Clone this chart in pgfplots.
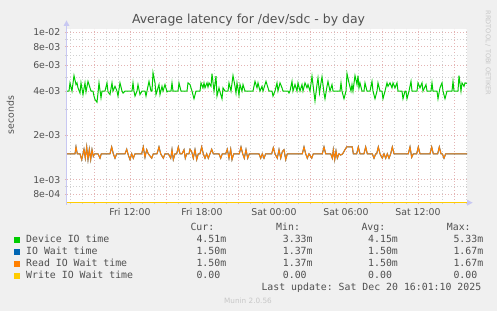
\documentclass[border=0pt]{standalone}
\usepackage{fontspec}
\setmainfont{DejaVu Sans}
\setmonofont{DejaVu Sans Mono}
\usepackage{pgfplots}
\usepackage{pgfplotstable}
\pgfplotsset{compat=1.18}
\definecolor{bg}{HTML}{F0F0F0}
\definecolor{dev}{HTML}{00CC00}
\definecolor{iow}{HTML}{0066B3}
\definecolor{rio}{HTML}{FF8000}
\definecolor{wio}{HTML}{FFCC00}
\definecolor{mgrid}{HTML}{E4B4B4}
\definecolor{mingrid}{HTML}{D0D0D0}
\definecolor{axisc}{HTML}{C8C8F2}
\definecolor{txt}{HTML}{505050}

% x = time in 5-minute steps (Fri 12:00 = 130, Sat 00:00 = 274)
\pgfplotstableread{
x y
67 4.0e-3
69 4.0e-3
70 4.55e-3
72 4.0e-3
74 5.10e-3
76 4.43e-3
77 4.55e-3
78 4.21e-3
80 3.88e-3
81 4.55e-3
83 3.79e-3
85 4.55e-3
86 3.95e-3
88 4.66e-3
89 4.43e-3
91 4.0e-3
93 4.0e-3
94 3.70e-3
95 3.51e-3
97 3.36e-3
98 3.88e-3
99 4.55e-3
101 3.60e-3
102 4.0e-3
105 4.0e-3
107 4.55e-3
108 3.95e-3
110 3.79e-3
112 4.55e-3
113 4.0e-3
115 4.31e-3
117 4.0e-3
118 3.70e-3
120 4.55e-3
122 4.0e-3
123 3.88e-3
125 4.0e-3
132 4.0e-3
133 4.55e-3
134 4.0e-3
135 3.70e-3
137 4.0e-3
138 4.43e-3
140 3.79e-3
142 4.0e-3
145 4.0e-3
146 3.70e-3
147 4.0e-3
149 4.66e-3
151 4.0e-3
152 4.0e-3
153 5.33e-3
155 4.55e-3
156 3.79e-3
157 4.0e-3
159 4.43e-3
160 3.79e-3
162 4.31e-3
163 4.0e-3
165 4.43e-3
167 3.95e-3
168 4.0e-3
171 4.0e-3
172 4.55e-3
173 4.0e-3
178 4.0e-3
179 4.55e-3
181 4.0e-3
187 4.0e-3
188 4.55e-3
190 4.43e-3
192 4.0e-3
194 3.55e-3
196 4.0e-3
200 4.0e-3
201 4.55e-3
203 4.21e-3
204 4.55e-3
205 4.21e-3
207 4.55e-3
208 4.26e-3
209 4.55e-3
211 4.31e-3
212 5.26e-3
214 4.0e-3
216 5.05e-3
217 3.70e-3
219 4.21e-3
220 3.95e-3
222 3.55e-3
223 4.21e-3
225 4.0e-3
228 4.0e-3
229 4.55e-3
231 4.0e-3
233 5.10e-3
235 4.31e-3
236 3.88e-3
237 4.55e-3
239 3.75e-3
240 4.43e-3
242 4.0e-3
243 4.43e-3
245 4.0e-3
253 4.0e-3
255 4.66e-3
257 4.21e-3
258 4.55e-3
260 4.0e-3
262 4.31e-3
263 4.0e-3
266 4.66e-3
268 4.21e-3
269 4.0e-3
272 4.0e-3
273 3.70e-3
275 4.0e-3
277 4.55e-3
278 4.0e-3
280 4.55e-3
282 4.21e-3
283 4.0e-3
288 4.0e-3
289 3.88e-3
290 4.0e-3
292 4.66e-3
293 4.0e-3
295 4.43e-3
297 4.0e-3
298 4.55e-3
300 4.0e-3
302 4.43e-3
303 4.0e-3
305 4.55e-3
307 4.21e-3
308 4.43e-3
310 4.0e-3
312 5.05e-3
314 3.88e-3
315 3.43e-3
317 4.43e-3
318 4.92e-3
319.5 3.88e-3
321 4.55e-3
322 5.0e-3
324 3.88e-3
325 3.55e-3
327 4.31e-3
328 4.66e-3
330 4.0e-3
332 4.43e-3
333 4.0e-3
340 4.0e-3
341 4.55e-3
342 4.0e-3
344 3.55e-3
346 4.0e-3
347 5.26e-3
349 4.55e-3
351 4.0e-3
352 4.43e-3
353 4.0e-3
355 5.10e-3
357 4.43e-3
358 5.10e-3
359 4.21e-3
360 4.55e-3
362 4.0e-3
364 4.0e-3
365 4.55e-3
367 4.0e-3
370 4.0e-3
372 4.66e-3
373 4.0e-3
375 3.55e-3
377 4.0e-3
378 4.55e-3
380 4.0e-3
382 4.0e-3
383 3.55e-3
385 4.0e-3
387 4.55e-3
388 4.31e-3
390 4.55e-3
392 4.21e-3
393 4.55e-3
395 4.21e-3
397 4.55e-3
398 4.0e-3
402 4.0e-3
403 3.55e-3
405 4.0e-3
406 4.0e-3
407 3.55e-3
409 4.0e-3
411 4.66e-3
412 4.0e-3
417 4.0e-3
418 4.55e-3
420 4.21e-3
422 4.55e-3
423 4.0e-3
426 4.43e-3
427 4.0e-3
431 4.0e-3
432 4.55e-3
433 4.0e-3
437 4.0e-3
438 3.55e-3
440 4.21e-3
442 4.55e-3
443 4.0e-3
445 3.55e-3
447 4.0e-3
452 4.0e-3
453 4.66e-3
454 4.0e-3
458 4.0e-3
459 5.10e-3
461 4.0e-3
462 4.55e-3
464 4.31e-3
465 4.55e-3
467 4.51e-3
}\devtable

\pgfplotstableread{
x y
67 1.5e-3
75 1.5e-3
76 1.67e-3
77.3 1.5e-3
80 1.5e-3
81.7 1.37e-3
84 1.61e-3
85.3 1.40e-3
86.7 1.67e-3
88 1.37e-3
89.3 1.61e-3
90.7 1.37e-3
92 1.60e-3
93.3 1.44e-3
94.7 1.5e-3
98 1.5e-3
100 1.40e-3
101.3 1.5e-3
110 1.5e-3
111.7 1.67e-3
113.3 1.5e-3
115 1.40e-3
116.7 1.5e-3
125 1.5e-3
126.7 1.61e-3
128.3 1.47e-3
130 1.37e-3
131.7 1.5e-3
133.3 1.40e-3
135 1.5e-3
141.7 1.5e-3
143.3 1.67e-3
145 1.42e-3
146.7 1.60e-3
148.3 1.5e-3
151.7 1.40e-3
153.3 1.5e-3
157 1.5e-3
159 1.67e-3
160.7 1.5e-3
163.3 1.40e-3
165 1.5e-3
168.3 1.5e-3
170.7 1.40e-3
172 1.60e-3
173.3 1.37e-3
175 1.5e-3
176.7 1.5e-3
178.3 1.67e-3
180 1.5e-3
182 1.5e-3
184 1.60e-3
185.3 1.40e-3
186.7 1.5e-3
189 1.5e-3
190 1.61e-3
191.7 1.55e-3
193.3 1.40e-3
195 1.60e-3
196.7 1.37e-3
198.3 1.5e-3
200 1.5e-3
201.7 1.67e-3
203.3 1.5e-3
205 1.40e-3
206.7 1.5e-3
208.3 1.40e-3
210 1.5e-3
211.7 1.61e-3
213.3 1.5e-3
219 1.5e-3
220.7 1.40e-3
222.3 1.5e-3
225.7 1.5e-3
227.3 1.61e-3
229 1.40e-3
230.7 1.61e-3
232 1.37e-3
233.7 1.5e-3
239.3 1.5e-3
241 1.67e-3
242.7 1.5e-3
244.3 1.40e-3
246 1.60e-3
247.7 1.40e-3
249.3 1.5e-3
259 1.5e-3
260.7 1.40e-3
262.3 1.5e-3
264 1.40e-3
265.7 1.5e-3
271.7 1.5e-3
273.3 1.65e-3
275 1.5e-3
277.3 1.40e-3
279 1.60e-3
280.7 1.40e-3
282.3 1.55e-3
284 1.60e-3
285.7 1.37e-3
287.3 1.5e-3
302.3 1.5e-3
304 1.67e-3
305.7 1.5e-3
307.3 1.40e-3
309 1.5e-3
311.7 1.40e-3
313.3 1.5e-3
322.3 1.5e-3
324 1.67e-3
325.7 1.5e-3
330.7 1.5e-3
332.3 1.40e-3
333.3 1.60e-3
334.7 1.37e-3
336 1.57e-3
337.3 1.40e-3
339 1.5e-3
340.7 1.47e-3
342.7 1.5e-3
345 1.60e-3
346.7 1.67e-3
352.3 1.67e-3
353.3 1.5e-3
356.7 1.5e-3
358.3 1.67e-3
360 1.5e-3
364 1.5e-3
365.7 1.67e-3
367.3 1.5e-3
372.3 1.5e-3
374 1.40e-3
375.7 1.5e-3
376.7 1.5e-3
378.3 1.67e-3
380 1.5e-3
382.3 1.40e-3
384 1.5e-3
385.7 1.40e-3
387.3 1.5e-3
389 1.40e-3
390.7 1.5e-3
392.3 1.67e-3
394 1.5e-3
408.3 1.5e-3
410 1.67e-3
411.7 1.42e-3
413.3 1.5e-3
416.7 1.5e-3
418.3 1.67e-3
420 1.5e-3
430 1.5e-3
431.7 1.67e-3
433.3 1.5e-3
437.7 1.5e-3
439.3 1.67e-3
441 1.5e-3
442.3 1.5e-3
444 1.40e-3
445.7 1.5e-3
467 1.5e-3
}\waittable

\begin{document}
\begin{tikzpicture}
\useasboundingbox (0,0) rectangle (497bp,311bp);
\fill[bg] (0,0) rectangle (497bp,311bp);
\begin{axis}[
  at={(67bp,108.5bp)}, anchor=south west,
  scale only axis, width=400bp, height=174bp,
  xmin=67, xmax=467,
  ymode=log, ymin=7e-4, ymax=1.065e-2,
  axis background/.style={fill=white},
  axis x line*=bottom, axis y line*=left,
  axis line style={draw=none},
  xtick={94,130,166,202,238,274,310,346,382,418,454},
  xticklabels={,Fri 12:00,,Fri 18:00,,Sat 00:00,,Sat 06:00,,Sat 12:00,},
  minor xtick={70,82,106,118,142,154,178,190,214,226,250,262,286,298,322,334,358,370,394,406,430,442,466},
  ytick={8e-4,1e-3,2e-3,4e-3,6e-3,8e-3,1e-2},
  yticklabels={8e-04,1e-03,2e-03,4e-03,6e-03,8e-03,1e-02},
  minor ytick={9e-4,3e-3,5e-3,7e-3,9e-3},
  grid=both,
  major grid style={mgrid, dash pattern=on 1bp off 2bp, line width=0.6bp},
  minor grid style={mingrid, dash pattern=on 1bp off 2bp, line width=0.6bp},
  tick align=outside, major tick length=2bp, minor tick length=2bp,
  major tick style={mgrid, line width=0.6bp},
  minor tick style={mingrid, line width=0.6bp},
  tick label style={font=\fontsize{9.4}{10}\selectfont, text=txt},
  x tick label style={inner sep=0pt, yshift=-3.5bp},
  y tick label style={inner sep=0pt, xshift=-4.5bp},
  clip=false,
]
\addplot[wio, line width=1.2bp] coordinates {(67,7e-4) (467,7e-4)};
\addplot[iow, line width=1bp] table {\waittable};
\addplot[rio, line width=1bp] table {\waittable};
\addplot[dev, line width=1bp] table {\devtable};
\end{axis}
% axes arrows
\draw[axisc, line width=1bp] (66.5bp,106bp) -- (66.5bp,285bp);
\fill[axisc] (63.5bp,285bp) -- (69.5bp,285bp) -- (66.5bp,290.5bp) -- cycle;
\fill[axisc] (467bp,105.3bp) -- (467bp,111.3bp) -- (472.7bp,108.3bp) -- cycle;
% title and labels
\node[anchor=base, inner sep=0pt, text=txt, font=\fontsize{12.5}{14}\selectfont] at (248.5bp,287bp) {Average latency for /dev/sdc - by day};
\node[rotate=90, anchor=center, inner sep=0pt, text=txt, font=\fontsize{9.4}{10}\selectfont] at (10.5bp,196bp) {seconds};
\node[rotate=-90, anchor=center, inner sep=0pt, text=black!22, font=\fontsize{6.6}{7}\selectfont] at (488bp,258bp) {RRDTOOL / TOBI OETIKER};
% legend
\begin{scope}[every node/.style={anchor=base west, inner sep=0pt, text=txt, font=\fontsize{9.9}{11}\ttfamily}]
\node at (190.3bp,80.3bp) {Cur:};
\node at (276bp,80.3bp) {Min:};
\node at (361.3bp,80.3bp) {Avg:};
\node at (446.7bp,80.3bp) {Max:};
\fill[dev] (14bp,68bp) rectangle (20bp,74bp);
\fill[iow] (14bp,56bp) rectangle (20bp,62bp);
\fill[rio] (14bp,44bp) rectangle (20bp,50bp);
\fill[wio] (14bp,32bp) rectangle (20bp,38bp);
\node at (26bp,68.3bp) {Device IO time};
\node at (26bp,56.3bp) {IO Wait time};
\node at (26bp,44.3bp) {Read IO Wait time};
\node at (26bp,32.3bp) {Write IO Wait time};
\node at (196.3bp,68.3bp) {4.51m};
\node at (282.7bp,68.3bp) {3.33m};
\node at (368bp,68.3bp) {4.15m};
\node at (453.3bp,68.3bp) {5.33m};
\node at (196.3bp,56.3bp) {1.50m};
\node at (282.7bp,56.3bp) {1.37m};
\node at (368bp,56.3bp) {1.50m};
\node at (453.3bp,56.3bp) {1.67m};
\node at (196.3bp,44.3bp) {1.50m};
\node at (282.7bp,44.3bp) {1.37m};
\node at (368bp,44.3bp) {1.50m};
\node at (453.3bp,44.3bp) {1.67m};
\node at (196.3bp,32.3bp) {0.00};
\node at (282.7bp,32.3bp) {0.00};
\node at (368bp,32.3bp) {0.00};
\node at (453.3bp,32.3bp) {0.00};
\node at (261.3bp,20.3bp) {Last update: Sat Dec 20 16:01:10 2025};
\end{scope}
\node[anchor=base, inner sep=0pt, text=black!22, font=\fontsize{7.3}{8}\selectfont] at (248bp,8bp) {Munin 2.0.56};
\end{tikzpicture}
\end{document}
